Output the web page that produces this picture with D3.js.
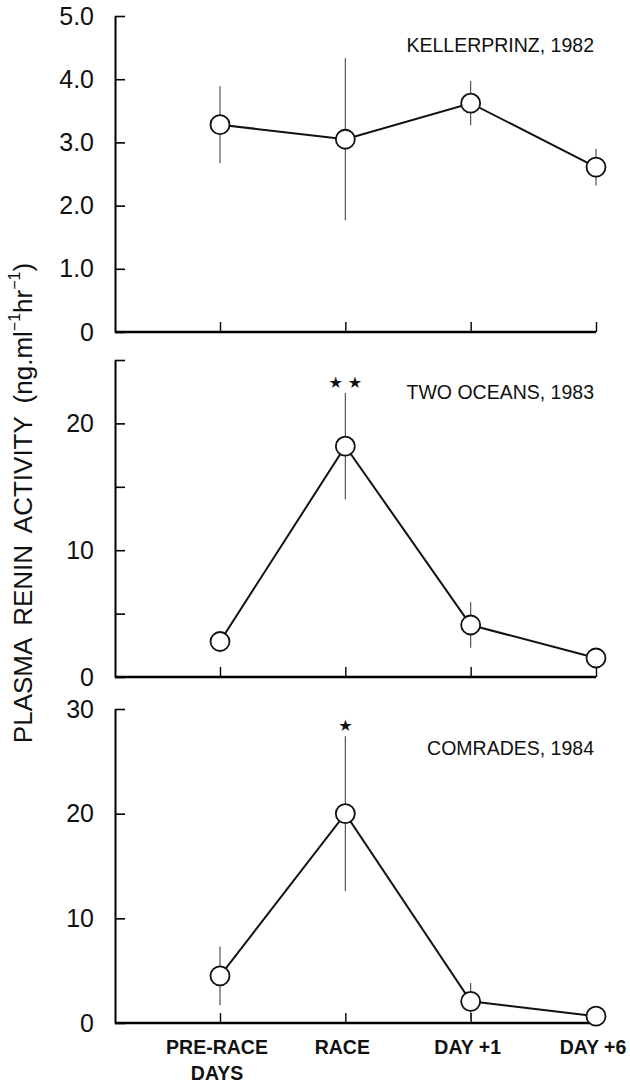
<!DOCTYPE html>
<html>
<head>
<meta charset="utf-8">
<script src="https://cdn.jsdelivr.net/npm/d3@7"></script>
<style>
  body { margin: 0; background: #fff; }
  svg { display: block; font-family: "Liberation Sans", Arial, sans-serif; }
</style>
</head>
<body>
<svg id="chart" width="630" height="1089"></svg>
<script>
// categories along the bottom
var categories = ["PRE-RACE DAYS", "RACE", "DAY +1", "DAY +6"];
var categoryLines = [["PRE-RACE", "DAYS"], ["RACE"], ["DAY +1"], ["DAY +6"]];

// panel titles
var panelTitles = ["KELLERPRINZ, 1982", "TWO OCEANS, 1983", "COMRADES, 1984"];

// means and error bars
var kellerMean = [3.28, 3.05, 3.62, 2.61];
var kellerErr = [0.61, 1.28, 0.35, 0.29];
var oceansMean = [2.8, 18.2, 4.1, 1.5];
var oceansErr = [0, 4.2, 1.8, 0];
var comradesMean = [4.5, 20.0, 2.07, 0.65];
var comradesErr = [2.8, 7.4, 1.75, 0];

// significance marks over RACE
var oceansStars = ["", "\u2605 \u2605", "", ""];
var comradesStars = ["", "\u2605", "", ""];

// y axis ticks per panel
var kellerTicks = [0, 1, 2, 3, 4, 5];
var oceansTicks = [0, 5, 10, 15, 20, 25];
var oceansLabelled = [0, 10, 20];
var comradesTicks = [0, 10, 20, 30];

var svg = d3.select("#chart");
var axisX = 115;

var x = d3.scalePoint()
  .domain(categories)
  .range([220, 596]);

var panels = [
  { title: panelTitles[0], mean: kellerMean, err: kellerErr, stars: null,
    domain: [0, 5], range: [332, 16], ticks: kellerTicks, titleY: 52,
    fmt: function(d) { return d === 0 ? "0" : d3.format(".1f")(d); } },
  { title: panelTitles[1], mean: oceansMean, err: oceansErr, stars: oceansStars,
    domain: [0, 25], range: [677, 360], ticks: oceansTicks, titleY: 399,
    fmt: function(d) { return oceansLabelled.indexOf(d) >= 0 ? d : ""; } },
  { title: panelTitles[2], mean: comradesMean, err: comradesErr, stars: comradesStars,
    domain: [0, 30], range: [1023, 709], ticks: comradesTicks, titleY: 755,
    fmt: function(d) { return d; } }
];

panels.forEach(function(p, pi) {
  var y = d3.scaleLinear().domain(p.domain).range(p.range);
  var g = svg.append("g");

  // y axis, ticks pointing inside
  var yAxis = g.append("g")
    .attr("transform", "translate(" + axisX + ",0)")
    .call(d3.axisLeft(y).tickValues(p.ticks).tickSizeInner(-10).tickSizeOuter(0)
      .tickPadding(21).tickFormat(p.fmt));
  yAxis.select(".domain").attr("stroke-width", 2);
  yAxis.selectAll(".tick line").attr("stroke-width", 1.6);
  yAxis.selectAll("text").attr("font-size", 25).attr("fill", "#111");

  // x axis, ticks pointing up
  var xAxis = g.append("g")
    .attr("transform", "translate(0," + y(0) + ")")
    .call(d3.axisBottom(x).tickSizeInner(-10).tickSizeOuter(0).tickFormat(""));
  xAxis.select(".domain")
    .attr("d", "M" + axisX + ",0H" + x.range()[1])
    .attr("stroke-width", 2.6);
  xAxis.selectAll(".tick line").attr("stroke-width", 1.4);

  var pts = categories.map(function(c, i) {
    return { c: c, m: p.mean[i], e: p.err[i] };
  });

  // error bars
  g.selectAll(".err").data(pts.filter(function(d) { return d.e > 0; }))
    .enter().append("line")
    .attr("x1", function(d) { return x(d.c); })
    .attr("x2", function(d) { return x(d.c); })
    .attr("y1", function(d) { return y(d.m + d.e); })
    .attr("y2", function(d) { return y(Math.max(0, d.m - d.e)); })
    .attr("stroke", "#444")
    .attr("stroke-width", 1.1);

  // connecting line
  g.append("path")
    .datum(pts)
    .attr("fill", "none")
    .attr("stroke", "#111")
    .attr("stroke-width", 2)
    .attr("d", d3.line().x(function(d) { return x(d.c); }).y(function(d) { return y(d.m); }));

  g.selectAll(".pt").data(pts)
    .enter().append("circle")
    .attr("cx", function(d) { return x(d.c); })
    .attr("cy", function(d) { return y(d.m); })
    .attr("r", 9.5)
    .attr("fill", "#fff")
    .attr("stroke", "#111")
    .attr("stroke-width", 1.8);

  if (p.stars) {
    g.selectAll(".star").data(pts.map(function(d, i) { return { c: d.c, top: d.m + d.e, s: p.stars[i] }; })
        .filter(function(d) { return d.s !== ""; }))
      .enter().append("text")
      .attr("x", function(d) { return x(d.c); })
      .attr("y", function(d) { return y(d.top) - 5; })
      .attr("text-anchor", "middle")
      .attr("font-family", "DejaVu Sans")
      .attr("font-size", 16)
      .attr("fill", "#111")
      .text(function(d) { return d.s; });
  }

  g.append("text")
    .attr("x", 594)
    .attr("y", p.titleY)
    .attr("text-anchor", "end")
    .attr("font-size", 19.5)
    .attr("fill", "#111")
    .text(p.title);

  // category labels only under the last panel
  if (pi === panels.length - 1) {
    categories.forEach(function(c, i) {
      var t = g.append("text")
        .attr("x", x(c) - 3)
        .attr("y", y(0) + 31)
        .attr("text-anchor", "middle")
        .attr("font-size", 19.5)
        .attr("font-weight", "bold")
        .attr("fill", "#111");
      categoryLines[i].forEach(function(line, li) {
        t.append("tspan")
          .attr("x", x(c) - 3)
          .attr("dy", li === 0 ? 0 : 26)
          .text(line);
      });
    });
  }
});

// y axis title
var yt = svg.append("text")
  .attr("transform", "translate(32,503) rotate(-90)")
  .attr("text-anchor", "middle")
  .attr("font-size", 26)
  .attr("word-spacing", 6)
  .attr("fill", "#111");
yt.append("tspan").text("PLASMA RENIN ACTIVITY (ng.ml");
yt.append("tspan").attr("font-size", 16).attr("dy", -12).text("\u22121");
yt.append("tspan").attr("dy", 12).text("hr");
yt.append("tspan").attr("font-size", 16).attr("dy", -12).text("\u22121");
yt.append("tspan").attr("dy", 12).text(")");
</script>
</body>
</html>
